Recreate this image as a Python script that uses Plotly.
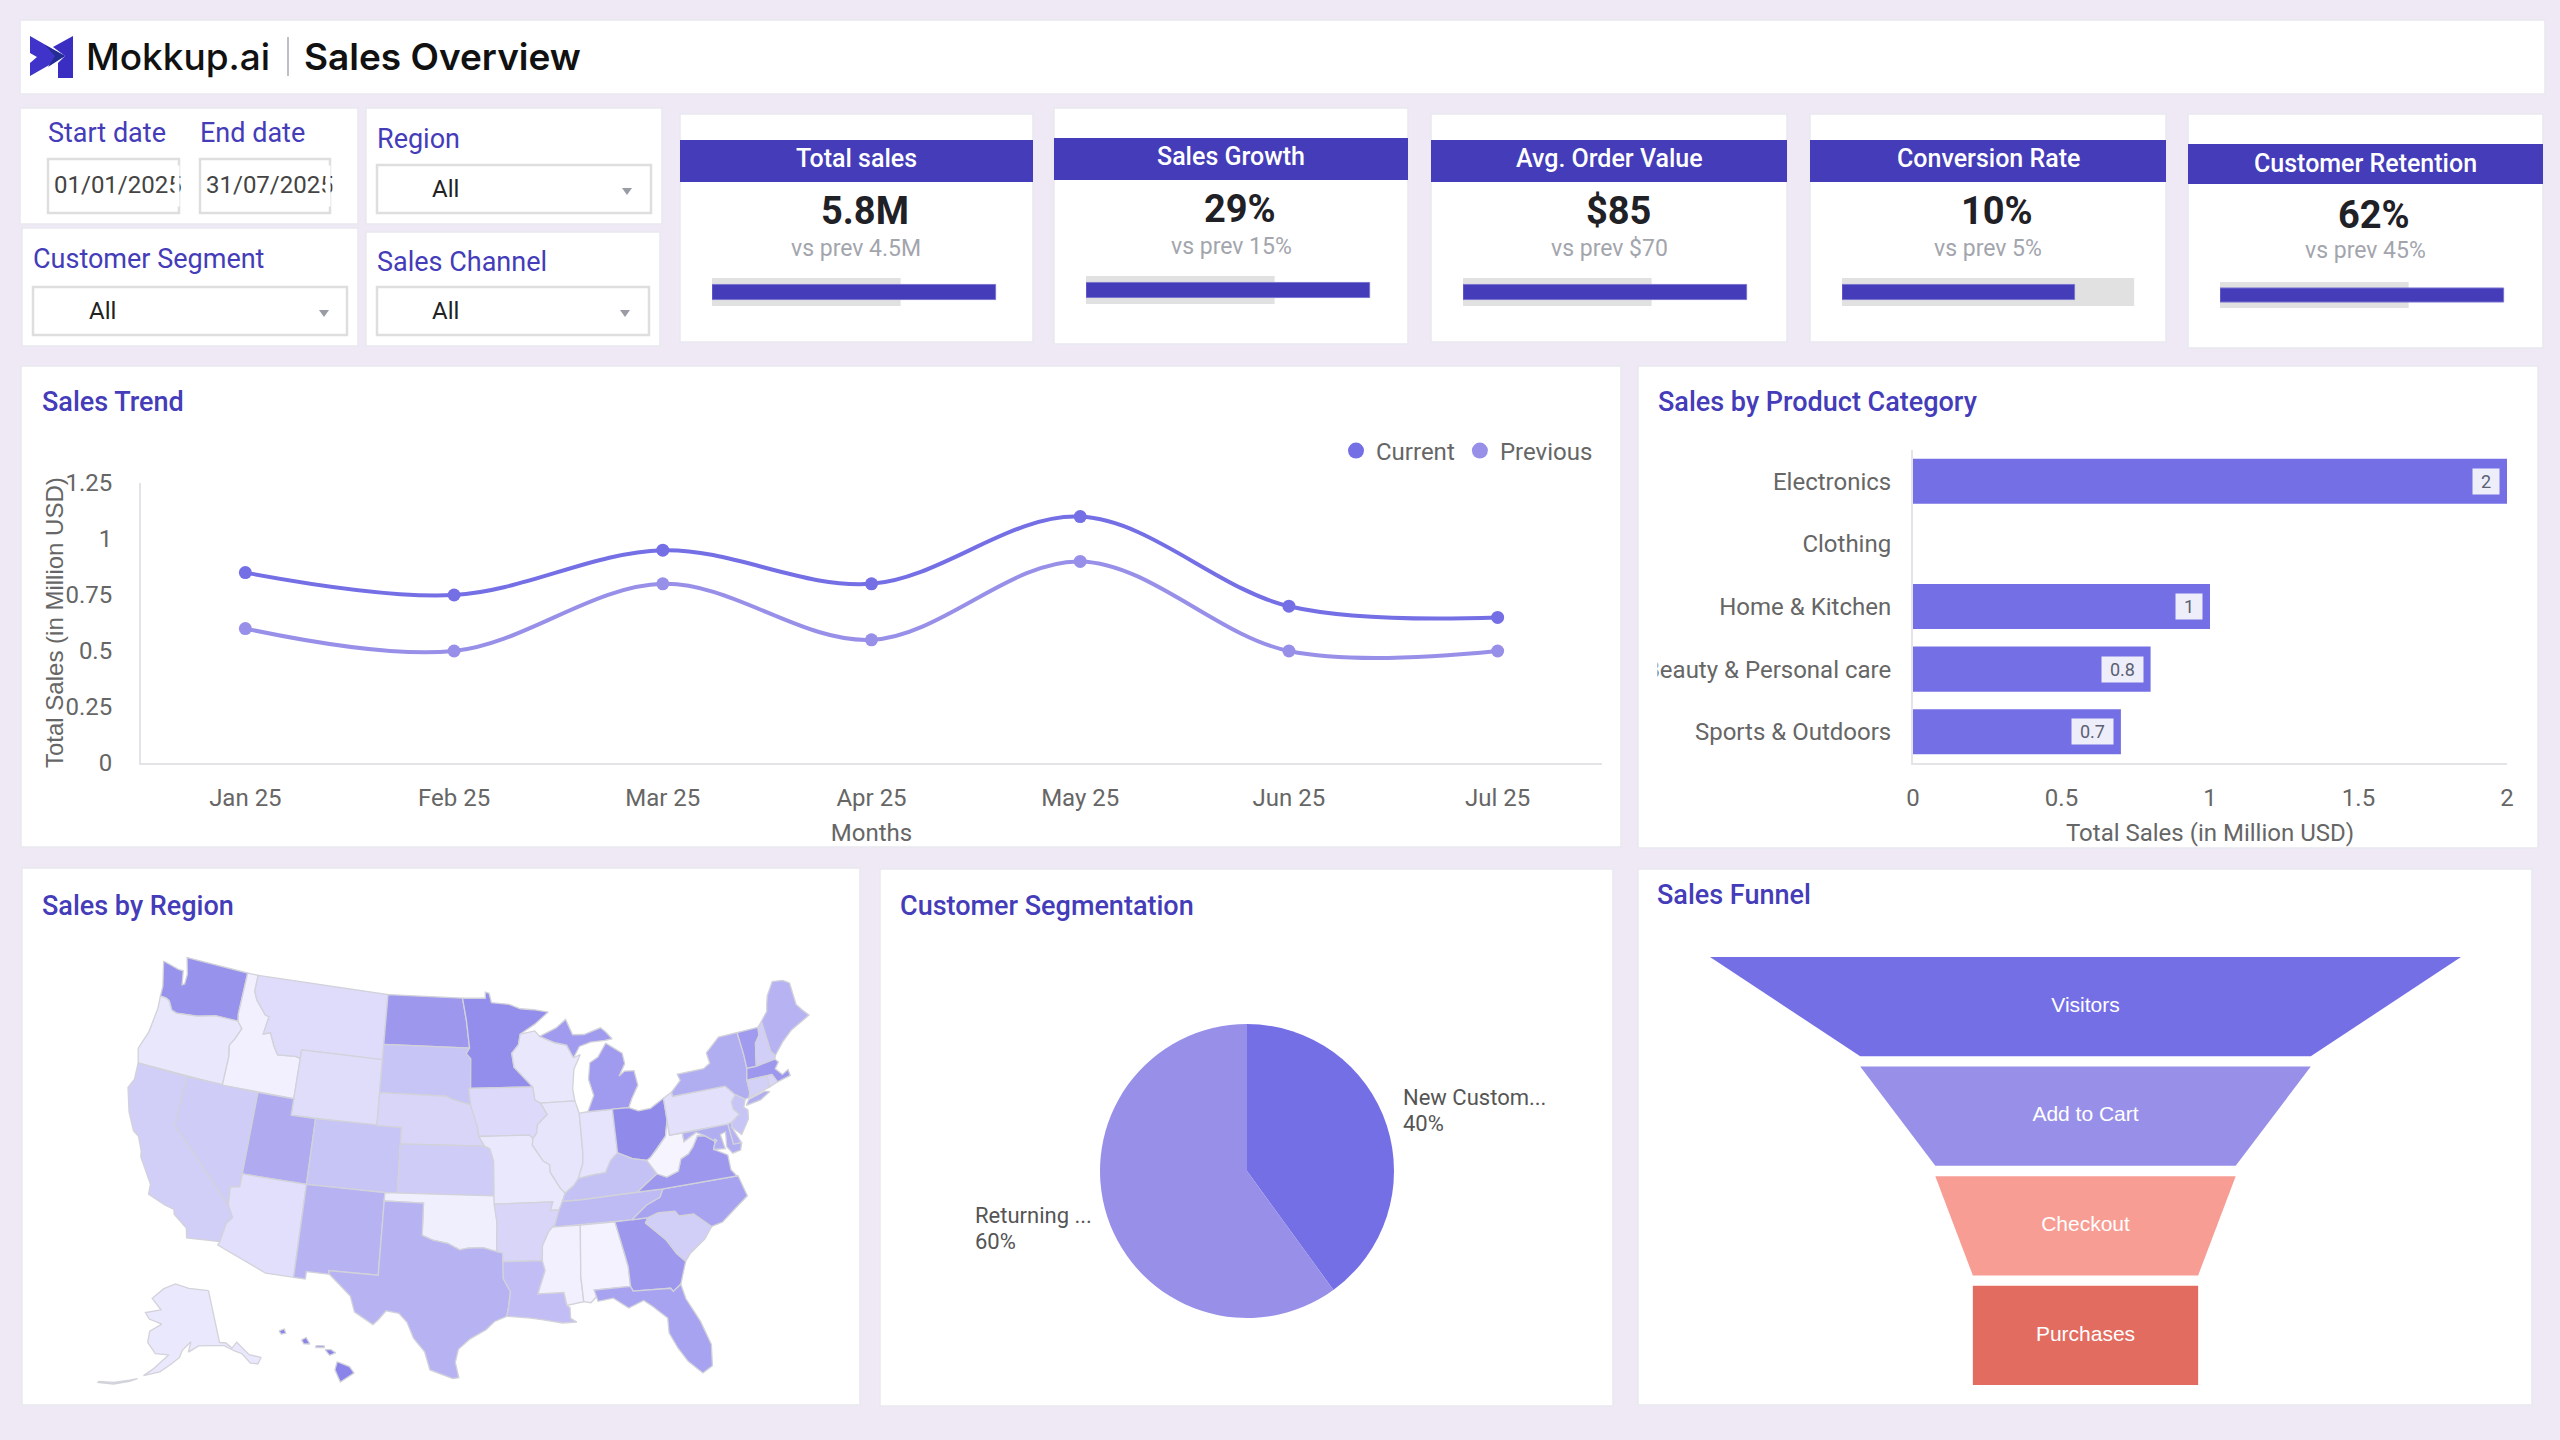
import math

import plotly.graph_objects as go

# ---- data ----
months = ["Jan 25", "Feb 25", "Mar 25", "Apr 25", "May 25", "Jun 25", "Jul 25"]
sales_current = [0.85, 0.75, 0.95, 0.8, 1.1, 0.7, 0.65]
sales_previous = [0.6, 0.5, 0.8, 0.55, 0.9, 0.5, 0.5]

categories = ["Electronics", "Clothing", "Home & Kitchen", "Beauty & Personal care", "Sports & Outdoors"]
category_sales = [2, None, 1, 0.8, 0.7]

segment_labels = ["New Customers", "Returning Customers"]
segment_share = [40, 60]

funnel_stages = ["Visitors", "Add to Cart", "Checkout", "Purchases"]
funnel_values = [5000, 3000, 2000, 1500]

kpi_titles = ["Total sales", "Sales Growth", "Avg. Order Value", "Conversion Rate", "Customer Retention"]
kpi_values = ["5.8M", "29%", "$85", "10%", "62%"]
kpi_prev = ["vs prev 4.5M", "vs prev 15%", "vs prev $70", "vs prev 5%", "vs prev 45%"]
bullet_fill = [100, 100, 100, 82, 100]
bullet_back = [66.5, 66.5, 66.5, 103, 66.5]

state_codes = ["WA", "OR", "CA", "NV", "ID", "MT", "WY", "UT", "AZ", "CO", "NM", "ND", "SD", "NE", "KS", "OK", "TX",
               "MN", "IA", "MO", "AR", "LA", "WI", "IL", "IN", "MI", "OH", "KY", "TN", "MS", "AL", "GA", "FL", "SC",
               "NC", "VA", "WV", "PA", "NY", "VT", "NH", "ME", "MA", "RI", "CT", "NJ", "DE", "MD", "DC", "AK", "HI"]
state_sales = [75, 12, 30, 32, 5, 20, 19, 56, 18, 38, 50, 70, 38, 25, 32, 6, 50,
               78, 22, 11, 25, 42, 12, 13, 14, 68, 80, 40, 45, 5, 4, 70, 62, 30,
               62, 70, 2, 17, 55, 68, 30, 50, 70, 25, 28, 38, 50, 55, 40, 11, 85]

# rough state borders in lon/lat
state_outlines = {
    "WA": [[(-124.7, 48.38), (-123.2, 48.15), (-122.75, 48.15), (-122.5, 47.3), (-122.3, 47.4), (-122.3, 48.0), (-122.75, 49), (-117.03, 49), (-117.04, 46.42), (-116.92, 45.99), (-118.98, 46), (-119.3, 45.93), (-120.5, 45.7), (-121.2, 45.65), (-122.3, 45.55), (-122.76, 45.65), (-123.2, 46.15), (-123.55, 46.26), (-124.05, 46.27), (-124.1, 46.9), (-124.4, 47.7)]],
    "OR": [[(-124.05, 46.27), (-123.55, 46.26), (-123.2, 46.15), (-122.76, 45.65), (-122.3, 45.55), (-121.2, 45.65), (-120.5, 45.7), (-119.3, 45.93), (-118.98, 46), (-116.92, 45.99), (-116.46, 45.6), (-116.85, 44.9), (-117.2, 44.45), (-117.03, 43.8), (-117.03, 42), (-124.2, 42), (-124.55, 42.85), (-124.1, 44), (-123.95, 45.5)]],
    "CA": [[(-124.2, 42), (-120, 42), (-120, 39), (-114.63, 35), (-114.13, 34.3), (-114.5, 33.9), (-114.72, 32.72), (-117.12, 32.53), (-117.3, 33.1), (-118.4, 33.75), (-118.5, 34.03), (-119.2, 34.15), (-120.6, 34.55), (-120.65, 35.15), (-121.9, 36.6), (-122, 36.95), (-122.5, 37.75), (-123, 38), (-123.75, 39), (-124.4, 40.4), (-124.1, 41)]],
    "NV": [[(-120, 42), (-114.04, 42), (-114.04, 36.2), (-114.75, 36.1), (-114.63, 35), (-120, 39)]],
    "ID": [[(-117.03, 49), (-116.05, 49), (-116.05, 48), (-115.7, 47.5), (-114.7, 46.7), (-114.35, 46.65), (-114.55, 45.55), (-113.95, 45.7), (-113.45, 44.95), (-113, 44.45), (-111.5, 44.55), (-111.05, 44.48), (-111.05, 42), (-117.03, 42), (-117.03, 43.8), (-117.2, 44.45), (-116.85, 44.9), (-116.46, 45.6), (-116.92, 45.99), (-117.04, 46.42)]],
    "MT": [[(-116.05, 49), (-104.05, 49), (-104.05, 45), (-111.05, 45), (-111.05, 44.48), (-111.5, 44.55), (-113, 44.45), (-113.45, 44.95), (-113.95, 45.7), (-114.55, 45.55), (-114.35, 46.65), (-114.7, 46.7), (-115.7, 47.5), (-116.05, 48)]],
    "WY": [[(-111.05, 45), (-104.05, 45), (-104.05, 41), (-111.05, 41)]],
    "UT": [[(-114.04, 42), (-111.05, 42), (-111.05, 41), (-109.05, 41), (-109.05, 37), (-114.04, 37)]],
    "CO": [[(-109.05, 41), (-102.05, 41), (-102.05, 37), (-109.05, 37)]],
    "AZ": [[(-114.04, 37), (-109.05, 37), (-109.05, 31.33), (-111.07, 31.33), (-114.81, 32.5), (-114.72, 32.72), (-114.5, 33.9), (-114.13, 34.3), (-114.63, 35), (-114.75, 36.1), (-114.04, 36.2)]],
    "NM": [[(-109.05, 37), (-103, 37), (-103.04, 32), (-106.62, 32), (-106.53, 31.78), (-108.2, 31.78), (-108.2, 31.33), (-109.05, 31.33)]],
    "ND": [[(-104.05, 49), (-97.23, 49), (-96.85, 47.6), (-96.56, 45.94), (-104.05, 45.94)]],
    "SD": [[(-104.05, 45.94), (-96.56, 45.94), (-96.85, 45.6), (-96.45, 45.3), (-96.45, 43.5), (-96.6, 43.5), (-96.45, 42.5), (-97.9, 42.8), (-98.5, 43), (-104.05, 43)]],
    "NE": [[(-104.05, 43), (-98.5, 43), (-97.9, 42.8), (-96.45, 42.5), (-96.1, 41.7), (-95.9, 41.2), (-95.77, 40.59), (-95.31, 40), (-102.05, 40), (-102.05, 41), (-104.05, 41)]],
    "KS": [[(-102.05, 40), (-95.31, 40), (-94.9, 39.85), (-94.61, 39.1), (-94.62, 37), (-102.05, 37)]],
    "OK": [[(-103, 37), (-94.62, 37), (-94.43, 35.4), (-94.48, 33.64), (-95.5, 33.88), (-96.6, 33.85), (-97.2, 33.75), (-98.1, 34.13), (-99.2, 34.3), (-100, 34.56), (-100, 36.5), (-103, 36.5)]],
    "TX": [[(-106.62, 32), (-103.04, 32), (-103, 36.5), (-100, 36.5), (-100, 34.56), (-99.2, 34.3), (-98.1, 34.13), (-97.2, 33.75), (-96.6, 33.85), (-95.5, 33.88), (-94.48, 33.64), (-94.04, 33.55), (-94.04, 31.99), (-93.55, 31.2), (-93.7, 30.3), (-93.85, 29.7), (-94.7, 29.4), (-95.3, 28.9), (-96.4, 28.35), (-97.2, 27.7), (-97.4, 26.9), (-97.15, 25.96), (-97.55, 25.9), (-99.1, 26.4), (-99.5, 27.5), (-100.3, 28.3), (-100.8, 29.25), (-101.4, 29.77), (-102.3, 29.88), (-102.8, 29.3), (-103.15, 28.98), (-104.5, 29.65), (-104.9, 30.6), (-106, 31.4), (-106.53, 31.78)]],
    "MN": [[(-97.23, 49), (-95.15, 49), (-95.15, 49.38), (-94.8, 49.3), (-94.6, 48.72), (-93, 48.6), (-92, 48.3), (-90.8, 48.2), (-89.5, 48), (-90.8, 47.3), (-92.1, 46.75), (-92.3, 46.1), (-92.9, 45.6), (-92.75, 44.75), (-91.22, 43.5), (-96.45, 43.5), (-96.45, 45.3), (-96.85, 45.6), (-96.56, 45.94), (-96.85, 47.6)]],
    "IA": [[(-96.6, 43.5), (-91.22, 43.5), (-91.1, 42.7), (-90.65, 42.5), (-90.15, 41.8), (-91, 41.2), (-91.1, 40.7), (-91.42, 40.38), (-91.7, 40.6), (-95.77, 40.59), (-95.9, 41.2), (-96.1, 41.7), (-96.45, 42.5)]],
    "MO": [[(-95.77, 40.59), (-91.7, 40.6), (-91.42, 40.38), (-91.5, 40), (-90.7, 39), (-90.2, 38.75), (-90.2, 38.3), (-89.5, 37.3), (-89.15, 36.98), (-89.4, 36.5), (-89.7, 36), (-90.37, 36), (-90.15, 36.5), (-94.62, 36.5), (-94.62, 37), (-94.61, 39.1), (-94.9, 39.85), (-95.31, 40)]],
    "AR": [[(-94.62, 36.5), (-90.15, 36.5), (-90.37, 36), (-89.7, 36), (-90.1, 35.1), (-90.6, 34.7), (-91.1, 33.9), (-91.17, 33), (-94.04, 33.02), (-94.04, 33.55), (-94.48, 33.64), (-94.43, 35.4)]],
    "LA": [[(-94.04, 33.02), (-91.17, 33), (-91, 32.4), (-91.6, 31), (-89.75, 31), (-89.6, 30.2), (-89.4, 30.05), (-89.4, 29.4), (-89, 29.15), (-90, 29.15), (-91.3, 29.4), (-92.2, 29.55), (-93.85, 29.7), (-93.7, 30.3), (-93.55, 31.2), (-94.04, 31.99)]],
    "WI": [[(-92.1, 46.75), (-90.8, 46.9), (-90.4, 46.55), (-89.1, 46.1), (-88.1, 45.9), (-87.6, 45.1), (-87, 45.25), (-87.65, 44.4), (-87.9, 43.2), (-87.8, 42.49), (-90.65, 42.5), (-91.1, 42.7), (-91.22, 43.5), (-92.75, 44.75), (-92.9, 45.6), (-92.3, 46.1)]],
    "IL": [[(-90.65, 42.5), (-87.8, 42.49), (-87.53, 41.72), (-87.53, 39.35), (-87.6, 38.7), (-88.05, 37.8), (-88.45, 37.4), (-89.15, 36.98), (-89.5, 37.3), (-90.2, 38.3), (-90.2, 38.75), (-90.7, 39), (-91.5, 40), (-91.42, 40.38), (-91.1, 40.7), (-91, 41.2), (-90.15, 41.8)]],
    "IN": [[(-87.53, 41.72), (-86.82, 41.76), (-84.8, 41.76), (-84.8, 39.1), (-85.4, 38.7), (-85.9, 38), (-86.8, 37.95), (-88.05, 37.8), (-87.6, 38.7), (-87.53, 39.35)]],
    "MI": [[(-86.82, 41.76), (-84.8, 41.76), (-83.45, 41.73), (-83.1, 42.25), (-82.45, 43), (-82.6, 43.9), (-83.4, 43.95), (-83.9, 43.7), (-83.3, 44.4), (-83.4, 45.05), (-84.7, 45.78), (-85.5, 45), (-86.25, 44.7), (-86.5, 43.7), (-86.2, 42.7)],
           [(-90.4, 46.55), (-89.1, 46.1), (-88.1, 45.9), (-87.6, 45.1), (-87, 45.75), (-86, 45.95), (-84.75, 45.95), (-84.1, 46), (-84.6, 46.47), (-85, 46.75), (-86.5, 46.45), (-87.5, 46.5), (-88, 47.47), (-88.9, 47)]],
    "OH": [[(-84.8, 41.76), (-83.45, 41.73), (-82.7, 41.45), (-81.7, 41.5), (-80.52, 41.98), (-80.52, 40.64), (-80.85, 39.7), (-81.7, 39), (-82.3, 38.55), (-82.6, 38.42), (-83.7, 38.65), (-84.8, 39.1)]],
    "KY": [[(-84.8, 39.1), (-83.7, 38.65), (-82.6, 38.42), (-81.97, 37.54), (-83.67, 36.6), (-88.07, 36.5), (-89.4, 36.5), (-89.15, 36.98), (-88.45, 37.4), (-88.05, 37.8), (-86.8, 37.95), (-85.9, 38), (-85.4, 38.7)]],
    "TN": [[(-89.7, 36), (-89.4, 36.5), (-88.07, 36.5), (-83.67, 36.6), (-81.68, 36.59), (-82, 36.1), (-83.1, 35.75), (-84.32, 34.99), (-90.3, 34.99), (-90.1, 35.1)]],
    "MS": [[(-90.3, 34.99), (-88.2, 34.99), (-88.47, 31.9), (-88.4, 30.35), (-89.6, 30.2), (-89.75, 31), (-91.6, 31), (-91, 32.4), (-91.17, 33), (-91.1, 33.9), (-90.6, 34.7)]],
    "AL": [[(-88.2, 34.99), (-85.6, 34.98), (-85.12, 32.8), (-85, 32.2), (-85, 31), (-87.6, 31), (-87.4, 30.65), (-87.9, 30.25), (-88.4, 30.35), (-88.47, 31.9)]],
    "GA": [[(-85.6, 34.98), (-83.1, 35), (-83.35, 34.7), (-82, 33.5), (-81.4, 32.6), (-80.85, 32.05), (-81.45, 30.72), (-82.05, 30.36), (-82.2, 30.57), (-84.86, 30.7), (-85, 31), (-85, 32.2), (-85.12, 32.8)]],
    "FL": [[(-87.6, 31), (-85, 31), (-84.86, 30.7), (-82.2, 30.57), (-82.05, 30.36), (-81.45, 30.72), (-81.25, 29.8), (-80.5, 28.3), (-80.03, 26.8), (-80.2, 25.5), (-80.9, 25.15), (-81.75, 26), (-82.3, 26.9), (-82.75, 27.9), (-82.7, 28.8), (-83.6, 29.6), (-84.2, 30.05), (-85.3, 29.7), (-86.3, 30.4), (-87.4, 30.3)]],
    "SC": [[(-83.35, 34.7), (-83.1, 35), (-82.3, 35.2), (-81.05, 35.15), (-80.8, 34.82), (-79.7, 34.8), (-78.55, 33.86), (-79.2, 33.2), (-80.4, 32.5), (-80.85, 32.05), (-81.4, 32.6), (-82, 33.5)]],
    "NC": [[(-84.32, 34.99), (-83.1, 35.75), (-82, 36.1), (-81.68, 36.59), (-75.87, 36.55), (-75.5, 35.25), (-76.5, 34.7), (-77.7, 34), (-78.55, 33.86), (-79.7, 34.8), (-80.8, 34.82), (-81.05, 35.15), (-82.3, 35.2), (-83.1, 35)]],
    "VA": [[(-83.67, 36.6), (-81.97, 37.54), (-81.25, 37.25), (-80.3, 37.5), (-79.95, 38.2), (-79.3, 38.42), (-78.85, 38.8), (-78.35, 39.4), (-77.75, 39.3), (-77.05, 38.85), (-77.3, 38.4), (-76.3, 37.9), (-76.3, 37), (-75.95, 36.55), (-81.68, 36.59)]],
    "WV": [[(-82.6, 38.42), (-82.3, 38.55), (-81.7, 39), (-80.85, 39.7), (-80.52, 40.64), (-80.52, 39.72), (-79.48, 39.72), (-79.48, 39.2), (-78.4, 39.62), (-77.75, 39.3), (-78.35, 39.4), (-78.85, 38.8), (-79.3, 38.42), (-79.95, 38.2), (-80.3, 37.5), (-81.25, 37.25), (-81.97, 37.54)]],
    "PA": [[(-80.52, 41.98), (-79.76, 42.27), (-79.76, 42), (-75.35, 42), (-74.7, 41.36), (-75.13, 40.97), (-75.1, 40.55), (-74.72, 40.15), (-75.42, 39.8), (-75.8, 39.72), (-80.52, 39.72), (-80.52, 40.64)]],
    "NY": [[(-79.76, 42), (-79.76, 42.27), (-78.9, 42.87), (-79.05, 43.27), (-76.8, 43.3), (-76.2, 43.55), (-76.3, 44.2), (-75, 44.98), (-73.35, 45), (-73.25, 43.6), (-73.27, 42.75), (-73.5, 42.05), (-73.5, 41.3), (-73.65, 41), (-74, 40.95), (-74.7, 41.36), (-75.35, 42)],
           [(-74, 40.6), (-73.7, 40.9), (-72.3, 41.15), (-71.9, 41.05), (-72.8, 40.7), (-74, 40.58)]],
    "VT": [[(-73.35, 45), (-71.5, 45), (-71.6, 44.5), (-72.05, 44.1), (-72.3, 43.3), (-72.46, 42.73), (-73.27, 42.75), (-73.25, 43.6)]],
    "NH": [[(-71.5, 45), (-71.08, 45.3), (-70.98, 43.4), (-70.7, 43.07), (-70.82, 42.87), (-72.46, 42.73), (-72.3, 43.3), (-72.05, 44.1), (-71.6, 44.5)]],
    "ME": [[(-71.08, 45.3), (-70.4, 45.8), (-70.25, 46.2), (-70, 46.7), (-69.23, 47.46), (-68.3, 47.35), (-67.79, 47.07), (-67.79, 45.7), (-67.45, 45.3), (-67, 44.85), (-68.8, 44.3), (-69.8, 43.75), (-70.7, 43.07), (-70.98, 43.4)]],
    "MA": [[(-73.5, 42.05), (-73.27, 42.75), (-72.46, 42.73), (-70.82, 42.87), (-70.6, 42.65), (-71, 42.3), (-70.55, 41.85), (-70, 42.05), (-69.95, 41.67), (-71.1, 41.5), (-71.38, 42.02)]],
    "RI": [[(-71.8, 42.01), (-71.38, 42.02), (-71.1, 41.5), (-71.85, 41.32)]],
    "CT": [[(-73.5, 42.05), (-71.8, 42.01), (-71.85, 41.32), (-73.65, 41), (-73.5, 41.3)]],
    "NJ": [[(-74.7, 41.36), (-74, 40.95), (-74.25, 40.5), (-73.98, 40.3), (-74.1, 39.75), (-74.9, 38.93), (-75.55, 39.5), (-75.42, 39.8), (-74.72, 40.15), (-75.1, 40.55), (-75.13, 40.97)]],
    "DE": [[(-75.8, 39.72), (-75.42, 39.8), (-75.55, 39.5), (-75.05, 38.45), (-75.7, 38.46)]],
    "MD": [[(-79.48, 39.72), (-75.8, 39.72), (-75.7, 38.46), (-75.05, 38.45), (-75.25, 38.03), (-75.9, 37.95), (-76.25, 38.4), (-76.1, 39.3), (-76.55, 39.2), (-76.4, 38.3), (-77.3, 38.4), (-77.05, 38.85), (-77.75, 39.3), (-78.4, 39.62), (-79.48, 39.2)]],
    "DC": [[(-77.12, 38.93), (-77.04, 39), (-76.91, 38.89), (-77.04, 38.79)]],
    "AK": [[(-141, 69.65), (-141, 60.3), (-139, 60), (-137.5, 58.9), (-135.5, 59.7), (-133, 57), (-130, 55.9), (-131.5, 55), (-133.5, 55.5), (-135, 57.5), (-137, 58.3), (-139.8, 59.6), (-144, 60), (-148, 60.2), (-151.5, 59.2), (-150.5, 61), (-153.5, 59.5), (-154.3, 58.3), (-157, 57), (-160, 55.6), (-164.5, 54.6), (-162, 56), (-157.7, 58.7), (-162, 58.7), (-165, 60.5), (-165, 62.5), (-161, 64), (-166, 64.6), (-168, 65.6), (-162, 66.5), (-166.5, 68.3), (-162, 70.3), (-156.5, 71.3), (-150, 70.5)],
           [(-176, 51.8), (-172, 52.4), (-168, 53.4), (-166, 53.9), (-168, 53.2), (-172, 52.1), (-176, 51.6)]],
    "HI": [[(-155.9, 20.2), (-155.1, 19.9), (-154.8, 19.5), (-155.7, 18.95), (-156.05, 19.7)],
           [(-156.7, 20.95), (-156.3, 20.95), (-156, 20.75), (-156.4, 20.6)],
           [(-157.3, 21.2), (-156.75, 21.18), (-156.75, 21.08), (-157.3, 21.08)],
           [(-158.25, 21.55), (-157.95, 21.7), (-157.7, 21.3), (-158.1, 21.3)],
           [(-159.75, 22.1), (-159.4, 22.22), (-159.3, 21.95), (-159.6, 21.9)]],
}

INK = "#443CB8"
VIOLET = "#756FE6"
LILAC = "#9890E8"
GREY = "#666666"
BACK = "#EEE9F4"
W, H = 2560, 1440


def X(px):
    return px / W


def Y(py):
    return 1 - py / H


shapes = []
notes = []


def rect(x0, y0, x1, y1, fill="white", line="rgba(0,0,0,0)", lw=1.5):
    shapes.append(dict(type="rect", xref="paper", yref="paper", x0=X(x0), x1=X(x1), y0=Y(y0), y1=Y(y1),
                       fillcolor=fill, line=dict(color=line, width=lw), layer="below"))


def poly(points, fill):
    path = "M" + " L".join(f"{X(a):.5f},{Y(b):.5f}" for a, b in points) + " Z"
    shapes.append(dict(type="path", xref="paper", yref="paper", path=path, fillcolor=fill,
                       line=dict(width=0), layer="below"))


def label(x, y, text, size=22, color=GREY, anchor="left", weight=400, family="Roboto"):
    if anchor == "left":
        x -= 2  # annotation box padding
    notes.append(dict(xref="paper", yref="paper", x=X(x), y=Y(y), text=text, showarrow=False, xanchor=anchor,
                      yanchor="middle", align=anchor, font=dict(size=size, color=color, family=family, weight=weight)))


def cover(x0, y0, x1, y1, color="white"):
    notes.append(dict(xref="paper", yref="paper", x=X(x0), y=Y(y0), xanchor="left", yanchor="top", text=" ",
                      showarrow=False, width=x1 - x0, height=y1 - y0, bgcolor=color, borderpad=0))


def dropdown(x0, y0, x1, y1, text_x, caret_x):
    rect(x0, y0, x1, y1, line="#DEDEDE", lw=2.5)
    label(text_x, (y0 + y1) / 2, "All", size=24, color="#222222")
    cy = (y0 + y1) / 2 + 2
    poly([(caret_x - 5, cy - 3), (caret_x + 5, cy - 3), (caret_x, cy + 4)], "#9A9CA5")


fig = go.Figure()

# ---- panels ----
panel_line = "#E9E8EE"
for box in [(20, 20, 2545, 94), (20, 108, 358, 224), (366, 108, 662, 224), (22, 228, 358, 346), (366, 232, 660, 346),
            (680, 114, 1033, 342), (1054, 108, 1408, 344), (1431, 114, 1787, 342), (1810, 114, 2166, 342),
            (2188, 114, 2543, 348), (21, 366, 1621, 847), (1638, 366, 2538, 848), (22, 868, 860, 1405),
            (880, 869, 1613, 1406), (1638, 869, 2532, 1405)]:
    rect(*box, line=panel_line)

# logo and header
poly([(73, 36), (53, 47), (65, 56), (58, 63), (58, 78), (73, 78)], "#3A2EC2")
poly([(30, 36), (65, 56), (30, 76), (30, 63), (37, 57), (30, 53)], "#3F33C9")
poly([(45, 45), (65, 56), (48, 67), (55, 56)], "#232C92")
label(86, 57, "Mokkup.ai", size=37, color="#111111", weight=500, family="Inter")
shapes.append(dict(type="line", xref="paper", yref="paper", x0=X(288), x1=X(288), y0=Y(37), y1=Y(76),
                   line=dict(color="#A9ABB5", width=1.5)))
label(304, 57, "Sales Overview", size=37, color="#111111", weight=600, family="Inter")

# filters
label(48, 133, "Start date", size=27, color=INK)
label(200, 133, "End date", size=27, color=INK)
rect(48, 159, 179, 213, line="#DEDEDE", lw=2.5)
rect(200, 159, 330, 213, line="#DEDEDE", lw=2.5)
label(54, 185, "01/01/2025", size=24, color="#444444")
label(206, 185, "31/07/2025", size=24, color="#444444")
# the date fields cut their text off at the inner edge
cover(174, 165, 178, 205)
cover(181, 165, 196, 205)
cover(325, 165, 329, 205)
cover(332, 165, 346, 205)
label(377, 139, "Region", size=27, color=INK)
dropdown(377, 165, 651, 213, 432, 627)
label(33, 259, "Customer Segment", size=27, color=INK)
dropdown(33, 287, 347, 335, 89, 324)
label(377, 262, "Sales Channel", size=27, color=INK)
dropdown(377, 287, 649, 335, 432, 625)

# KPI cards: band, title, value, sub text positions
kpi_boxes = [(680, 1033, 140, 182, 159, 211, 249, 712, 278, 306, 856, 865),
             (1054, 1408, 138, 180, 157, 209, 247, 1086, 276, 304, 1231, 1240),
             (1431, 1787, 140, 182, 159, 211, 249, 1463, 278, 306, 1609, 1618),
             (1810, 2166, 140, 182, 159, 211, 249, 1842, 278, 306, 1988, 1997),
             (2188, 2543, 144, 184, 163, 215, 251, 2220, 282, 308, 2365, 2374)]
bullet_axes = {}
for i, (x0, x1, b0, b1, ty, vy, sy, bx, g0, g1, cx, vx) in enumerate(kpi_boxes):
    rect(x0, b0, x1, b1, fill=INK)
    label(cx, ty, kpi_titles[i], size=25, color="white", anchor="center", weight=500)
    label(vx, vy, kpi_values[i], size=38, color="#1F2126", anchor="center", weight=700)
    label(cx, sy, kpi_prev[i], size=23, color="#A3A5AD", anchor="center")
    n = i + 5
    fig.add_trace(go.Bar(y=[0], x=[bullet_back[i]], orientation="h", width=1, marker=dict(color="#E1E1E1", line=dict(width=0)),
                         xaxis=f"x{n}", yaxis=f"y{n}", showlegend=False, hoverinfo="skip"))
    fig.add_trace(go.Bar(y=[0], x=[bullet_fill[i]], orientation="h", width=0.54,
                         marker=dict(color=INK, line=dict(color="#7A74D0", width=1)),
                         xaxis=f"x{n}", yaxis=f"y{n}", showlegend=False, hoverinfo="skip"))
    bullet_axes[f"xaxis{n}"] = dict(domain=[X(bx), X(bx + 312)], range=[0, 110], visible=False, anchor=f"y{n}")
    bullet_axes[f"yaxis{n}"] = dict(domain=[Y(g1), Y(g0)], range=[-0.5, 0.5], visible=False, anchor=f"x{n}")

# section titles
label(42, 402, "Sales Trend", size=27, color=INK, weight=500)
label(1658, 402, "Sales by Product Category", size=27, color=INK, weight=500)
label(42, 906, "Sales by Region", size=27, color=INK, weight=500)
label(900, 906, "Customer Segmentation", size=27, color=INK, weight=500)
label(1657, 895, "Sales Funnel", size=27, color=INK, weight=500)

# ---- sales trend ----
for name, values, color in [("Current", sales_current, VIOLET), ("Previous", sales_previous, LILAC)]:
    fig.add_trace(go.Scatter(x=months, y=values, mode="lines+markers", line=dict(color=color, width=4, shape="spline"),
                             marker=dict(color=color, size=13), showlegend=False, hoverinfo="skip"))
    # legend key only, dot without the line
    fig.add_trace(go.Scatter(x=[None], y=[None], mode="markers", marker=dict(color=color, size=17), name=name))
notes.append(dict(xref="paper", yref="paper", x=X(54), y=Y(623), text="Total Sales (in Million USD)", showarrow=False,
                  textangle=-90, xanchor="center", yanchor="middle", font=dict(size=24, color=GREY, family="Liberation Sans")))

# ---- sales by category ----
fig.add_trace(go.Bar(y=categories, x=category_sales, orientation="h", marker=dict(color=VIOLET, line=dict(width=0)),
                     width=0.72, xaxis="x2", yaxis="y2", showlegend=False))
for cat, val in zip(categories, category_sales):
    if val is not None:
        notes.append(dict(xref="x2", yref="y2", x=val, y=cat, text=f"{val}", showarrow=False, xanchor="right", xshift=-7,
                          width=26 if len(str(val)) == 1 else 41, height=25, bgcolor="#EEEEFA", borderpad=0,
                          font=dict(size=18, color="#5A6072", family="Roboto")))
cover(1640, 640, 1656, 690)

# ---- funnel: each stage narrows down to the next value ----
funnel_colors = [VIOLET, LILAC, "#F79D94", "#E36C60"]
half_band = 0.453
for i, stage in enumerate(funnel_stages):
    top = funnel_values[i]
    bottom = funnel_values[i + 1] if i + 1 < len(funnel_values) else top
    fig.add_trace(go.Scatter(x=[-top / 2, top / 2, bottom / 2, -bottom / 2, -top / 2],
                             y=[i - half_band, i - half_band, i + half_band, i + half_band, i - half_band],
                             mode="lines", fill="toself", fillcolor=funnel_colors[i], line=dict(width=0),
                             xaxis="x3", yaxis="y3", showlegend=False, hoverinfo="skip"))
fig.add_trace(go.Scatter(x=[0] * 4, y=list(range(4)), mode="text", text=funnel_stages,
                         textfont=dict(size=21, color="white", family="Liberation Sans"),
                         xaxis="x3", yaxis="y3", showlegend=False, hoverinfo="skip"))

# ---- pie ----
fig.add_trace(go.Pie(labels=segment_labels, values=segment_share, sort=False, direction="clockwise", rotation=0,
                     marker=dict(colors=[VIOLET, LILAC], line=dict(width=0)), textinfo="none", showlegend=False,
                     domain=dict(x=[X(1100), X(1394)], y=[Y(1318), Y(1024)])))
label(1403, 1097, "New Custom...", size=22, color="#555555")
label(1403, 1123, "40%", size=22, color="#555555")
label(975, 1215, "Returning ...", size=22, color="#555555")
label(975, 1241, "60%", size=22, color="#555555")


# ---- state map, Albers conic drawn through plain axes because geo needs the CDN topojson ----
def albers(lon, lat, lon0, lat0, p1, p2):
    s1, s2 = math.sin(math.radians(p1)), math.sin(math.radians(p2))
    n = (s1 + s2) / 2
    c = math.cos(math.radians(p1)) ** 2 + 2 * n * s1
    rho0 = math.sqrt(c - 2 * n * math.sin(math.radians(lat0))) / n
    rho = math.sqrt(c - 2 * n * math.sin(math.radians(lat))) / n
    theta = n * math.radians(lon - lon0)
    return rho * math.sin(theta), rho0 - rho * math.cos(theta)


def main_proj(lon, lat):
    return albers(lon, lat, -96, 37.5, 29.5, 45.5)


# calibration points on the reference map
ax = (809 - 128) / (main_proj(-67, 44.85)[0] - main_proj(-124.4, 40.4)[0])
bx_ = 128 - ax * main_proj(-124.4, 40.4)[0]
ay = (1373 - 961) / (main_proj(-80.9, 25.15)[1] - main_proj(-124.7, 48.38)[1])
by_ = 961 - ay * main_proj(-124.7, 48.38)[1]


def inset(code, lon0, lat0, p1, p2, box):
    pts = [albers(a, b, lon0, lat0, p1, p2) for ring in state_outlines[code] for a, b in ring]
    xs, ys = [p[0] for p in pts], [p[1] for p in pts]
    sx = (box[1] - box[0]) / (max(xs) - min(xs))
    sy = (box[3] - box[2]) / (max(ys) - min(ys))
    return lambda lon, lat: (box[0] + (albers(lon, lat, lon0, lat0, p1, p2)[0] - min(xs)) * sx,
                             box[3] - (albers(lon, lat, lon0, lat0, p1, p2)[1] - min(ys)) * sy)


to_px = {"AK": inset("AK", -154, 58.5, 55, 65, (98, 261, 1284, 1384)),
         "HI": inset("HI", -157, 19.9, 8, 18, (279, 354, 1329, 1382))}


def shade(v):
    t = v / 85
    low, high = (248, 247, 255), (138, 132, 234)
    return "rgb(%d,%d,%d)" % tuple(round(a + (b - a) * t) for a, b in zip(low, high))


for code, val in zip(state_codes, state_sales):
    xs, ys = [], []
    for ring in state_outlines[code]:
        for lon, lat in ring + ring[:1]:
            if code in to_px:
                px, py = to_px[code](lon, lat)
            else:
                u, v = main_proj(lon, lat)
                px, py = ax * u + bx_, ay * v + by_
            xs.append(px)
            ys.append(py)
        xs.append(None)
        ys.append(None)
    fig.add_trace(go.Scatter(x=xs, y=ys, mode="lines", fill="toself", fillcolor=shade(val),
                             line=dict(color="#D2D2DA", width=1.3), xaxis="x4", yaxis="y4", name=code,
                             showlegend=False, hoverinfo="name"))

tick_font = dict(size=24, color=GREY, family="Roboto")
axis_line = "#E3E3E8"

fig.update_layout(
    width=W, height=H, margin=dict(l=0, r=0, t=0, b=0, autoexpand=False), paper_bgcolor=BACK, plot_bgcolor="rgba(0,0,0,0)",
    barmode="overlay", shapes=shapes, annotations=notes, font=dict(family="Roboto", color=GREY),
    legend=dict(orientation="h", x=X(1598), xanchor="right", y=Y(451), yanchor="middle", font=dict(size=24, color=GREY),
                itemwidth=30, tracegroupgap=0, bgcolor="rgba(0,0,0,0)"),
    xaxis=dict(domain=[X(141), X(1602)], range=[-0.5, 6.5], type="category", showline=True, linecolor=axis_line, linewidth=2,
               showgrid=False, zeroline=False, ticks="outside", ticklen=12, tickcolor="rgba(0,0,0,0)", tickfont=tick_font,
               title=dict(text="Months", font=dict(size=24, color=GREY), standoff=13)),
    yaxis=dict(domain=[Y(763), Y(483)], range=[0, 1.25], tickvals=[0, 0.25, 0.5, 0.75, 1, 1.25],
               ticktext=["0", "0.25", "0.5", "0.75", "1", "1.25"], showline=True, linecolor=axis_line, linewidth=2,
               showgrid=False, zeroline=False, ticks="outside", ticklen=22, tickcolor="rgba(0,0,0,0)", tickfont=tick_font),
    xaxis2=dict(domain=[X(1913), X(2507)], range=[0, 2], anchor="y2", tickvals=[0, 0.5, 1, 1.5, 2],
                ticktext=["0", "0.5", "1", "1.5", "2"], showline=True, linecolor=axis_line, linewidth=2, showgrid=False, zeroline=False,
                ticks="outside", ticklen=12, tickcolor="rgba(0,0,0,0)", tickfont=tick_font,
                title=dict(text="Total Sales (in Million USD)", font=dict(size=24, color=GREY), standoff=13)),
    yaxis2=dict(domain=[Y(763), Y(450)], anchor="x2", type="category", autorange="reversed", showline=True, linecolor=axis_line,
                linewidth=2, showgrid=False, zeroline=False, ticks="outside", ticklen=15, tickcolor="rgba(0,0,0,0)", tickfont=tick_font),
    xaxis3=dict(domain=[X(1710), X(2461)], range=[-2500, 2500], visible=False, anchor="y3"),
    yaxis3=dict(domain=[Y(1385), Y(957)], range=[3.453, -0.453], visible=False, anchor="x3"),
    xaxis4=dict(domain=[X(22), X(860)], range=[22, 860], visible=False, anchor="y4"),
    yaxis4=dict(domain=[Y(1405), Y(930)], range=[1405, 930], visible=False, anchor="x4"),
    **bullet_axes,
)

fig.write_html("out.html", config=dict(displayModeBar=False), post_script="document.body.style.margin='0';")
